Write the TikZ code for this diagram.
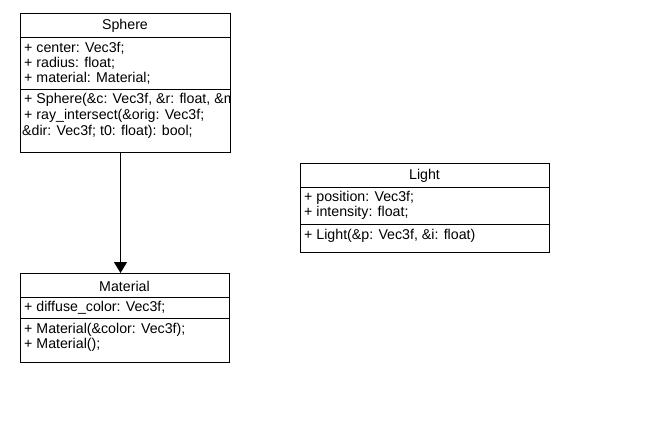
\documentclass[tikz,border=0pt]{standalone}
\usepackage{fontspec}
\setmainfont{Liberation Sans}
\usetikzlibrary{positioning,arrows.meta}

\begin{document}
\begin{tikzpicture}[x=1pt,y=-1pt,
  every node/.style={font=\fontsize{14.2}{16}\selectfont},
  classbox/.style={draw,line width=0.9pt,anchor=north west,inner sep=0pt},
  member/.style={anchor=west,inner sep=0pt},
  divider/.style={line width=0.9pt}]
  \useasboundingbox (0,0) rectangle (666,433);
  % Sphere
  \node[classbox,minimum width=210pt,minimum height=139pt] (sphere) at (20,13) {};
  \node (sphere-t) at (125,26) {Sphere};
  \draw[divider] (20,37) -- (230,37);
  \node[member] (sphere-a1) at (24,48) {+ center: Vec3f;};
  \node[member] (sphere-a2) at (24,63) {+ radius: float;};
  \node[member] (sphere-a3) at (24,78) {+ material: Material;};
  \draw[divider] (20,89) -- (230,89);
  \begin{scope}
    \clip (20,13) rectangle (229.5,152);
    \node[member] (sphere-m1) at (24,100) {+ Sphere(\&c: Vec3f, \&r: float, \&material: Material)};
  \end{scope}
  \node[member] (sphere-m2) at (24,116) {+ ray\_intersect(\&orig: Vec3f;};
  \node[member] (sphere-m3) at (22,132) {\&dir: Vec3f; t0: float): bool;};
  % Light
  \node[classbox,minimum width=249pt,minimum height=89pt] (light) at (300,163) {};
  \node (light-t) at (424.5,176) {Light};
  \draw[divider] (300,187) -- (549,187);
  \node[member] (light-a1) at (304,198) {+ position: Vec3f;};
  \node[member] (light-a2) at (304,213) {+ intensity: float;};
  \draw[divider] (300,224) -- (549,224);
  \node[member] (light-m1) at (304,236) {+ Light(\&p: Vec3f, \&i: float)};
  % Material
  \node[classbox,minimum width=209pt,minimum height=89pt] (material) at (20,273) {};
  \node (material-t) at (124.5,286) {Material};
  \draw[divider] (20,297) -- (229,297);
  \node[member] (material-a1) at (24,308) {+ diffuse\_color: Vec3f;};
  \draw[divider] (20,318) -- (229,318);
  \node[member] (material-m1) at (24,330) {+ Material(\&color: Vec3f);};
  \node[member] (material-m2) at (24,345) {+ Material();};
  % association
  \draw[line width=0.9pt,-{Triangle[length=11pt,width=13pt]}]
    (sphere.south -| 120.5,0) -- (material.north -| 120.5,0);
\end{tikzpicture}
\end{document}
